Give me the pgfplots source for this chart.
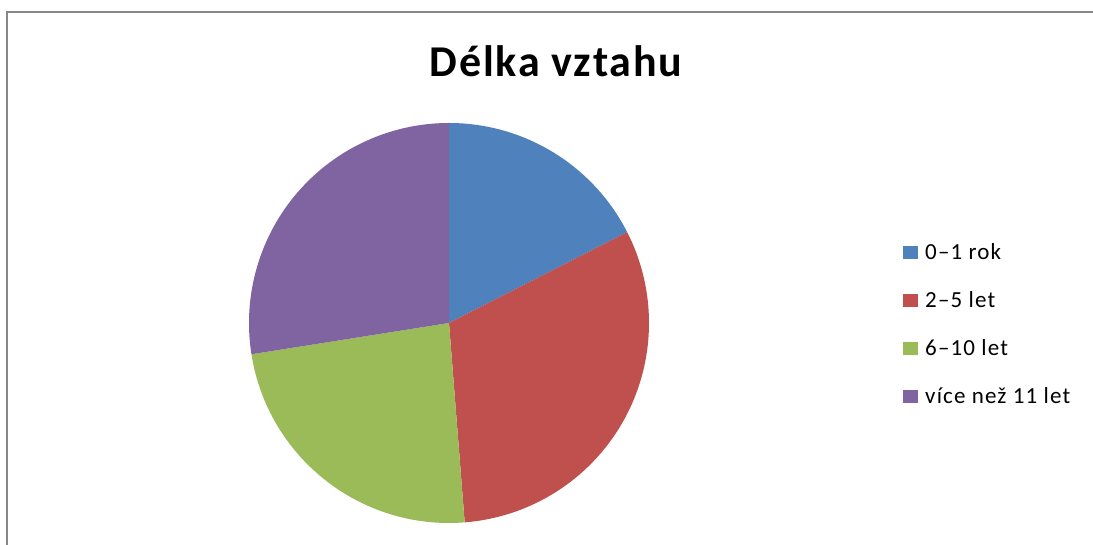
\documentclass[border=0pt]{standalone}
\usepackage{pgfplots}
\pgfplotsset{compat=1.18}
\usepackage{pgfplotstable}
\usepackage{fontspec}
\setmainfont{Carlito}
\newfontfamily\titlefont[LetterSpace=4]{Carlito}
\newfontfamily\legendfont[LetterSpace=5]{Carlito}

\definecolor{pieblue}{HTML}{4F81BD}
\definecolor{piered}{HTML}{C0504D}
\definecolor{piegreen}{HTML}{9BBB59}
\definecolor{piepurple}{HTML}{8064A2}
\definecolor{framegray}{HTML}{878787}

\pgfplotstableread[col sep=comma]{
label,value
0–1 rok,14
2–5 let,25
6–10 let,19
více než 11 let,22
}\piedata

\begin{document}
\begin{tikzpicture}
\pgfplotstablegetelem{0}{value}\of\piedata \let\vA\pgfplotsretval
\pgfplotstablegetelem{1}{value}\of\piedata \let\vB\pgfplotsretval
\pgfplotstablegetelem{2}{value}\of\piedata \let\vC\pgfplotsretval
\pgfplotstablegetelem{3}{value}\of\piedata \let\vD\pgfplotsretval
\pgfmathsetmacro\tot{\vA+\vB+\vC+\vD}
\pgfmathsetmacro\aA{90}
\pgfmathsetmacro\aB{\aA-360*\vA/\tot}
\pgfmathsetmacro\aC{\aB-360*\vB/\tot}
\pgfmathsetmacro\aD{\aC-360*\vC/\tot}
\pgfmathsetmacro\aE{\aD-360*\vD/\tot}

\useasboundingbox (0pt,0pt) rectangle (1093pt,545pt);
\draw[framegray, line width=2.5pt] (7pt,0pt) -- (7pt,533pt) -- (1093pt,533pt);
\node[anchor=base, inner sep=0pt, font=\titlefont\bfseries\fontsize{44}{52}\selectfont] at (556pt,468pt) {Délka vztahu};

\begin{axis}[at={(449pt,222pt)}, anchor=origin, scale only axis,
  width=400pt, height=400pt, xmin=-1, xmax=1, ymin=-1, ymax=1,
  hide axis, clip=false,
  legend style={at={(1.635,0.7025)}, anchor=north west, draw=none, fill=none,
    inner sep=0pt, row sep=31pt, column sep=7pt,
    nodes={inner sep=0pt, text height=17pt, text depth=0pt,
      font=\legendfont\fontsize{23}{27}\selectfont}},
  legend cell align=left,
  legend image code/.code={\fill[#1] (0pt,-8.5pt) rectangle (15pt,5pt);}]
\fill[pieblue] (0,0) -- ({cos(\aA)},{sin(\aA)}) arc[start angle=\aA, end angle=\aB, radius=200pt] -- cycle;
\fill[piered] (0,0) -- ({cos(\aB)},{sin(\aB)}) arc[start angle=\aB, end angle=\aC, radius=200pt] -- cycle;
\fill[piegreen] (0,0) -- ({cos(\aC)},{sin(\aC)}) arc[start angle=\aC, end angle=\aD, radius=200pt] -- cycle;
\fill[piepurple] (0,0) -- ({cos(\aD)},{sin(\aD)}) arc[start angle=\aD, end angle=\aE, radius=200pt] -- cycle;
\addlegendimage{fill=pieblue, draw=none}
\addlegendentry{0–1 rok}
\addlegendimage{fill=piered, draw=none}
\addlegendentry{2–5 let}
\addlegendimage{fill=piegreen, draw=none}
\addlegendentry{6–10 let}
\addlegendimage{fill=piepurple, draw=none}
\addlegendentry{více než 11 let}
\end{axis}
\end{tikzpicture}
\end{document}
